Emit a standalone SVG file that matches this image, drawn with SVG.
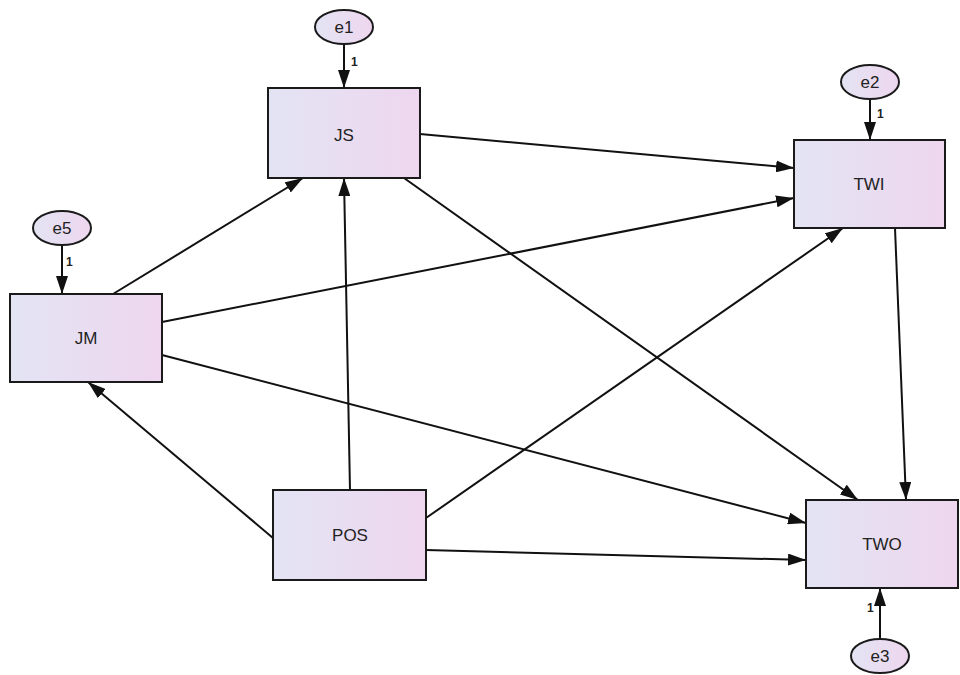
<svg xmlns="http://www.w3.org/2000/svg" width="960" height="675" viewBox="0 0 960 675">
<style>
.n{fill:url(#g);stroke:#1a1a1a;stroke-width:2}
.t{font-family:"Liberation Sans",Arial,sans-serif;font-size:17px;fill:#222;text-anchor:middle}
.s{font-family:"Liberation Sans",Arial,sans-serif;font-size:12px;fill:#222;font-weight:bold}
#edges line{stroke:#111;stroke-width:2;marker-end:url(#a)}
</style>
<defs>
<linearGradient id="g" x1="0" y1="0" x2="1" y2="0"><stop offset="0" stop-color="#e3e4f3"/><stop offset="1" stop-color="#eed6ef"/></linearGradient>
<marker id="a" viewBox="0 0 18 12" refX="18" refY="6" markerWidth="18" markerHeight="12" markerUnits="userSpaceOnUse" orient="auto"><path d="M0,0L18,6L0,12z" fill="#111"/></marker>
</defs>
<rect width="960" height="675" fill="#fff"/>
<g id="edges">
<line x1="344" y1="44" x2="344" y2="88"/>
<line x1="870" y1="99" x2="870" y2="140"/>
<line x1="62" y1="245" x2="62" y2="294"/>
<line x1="880" y1="640" x2="880" y2="588"/>
<line x1="420" y1="134" x2="794" y2="168"/>
<line x1="113" y1="294" x2="303" y2="178"/>
<line x1="162" y1="322" x2="794" y2="198"/>
<line x1="162" y1="355" x2="806" y2="523"/>
<line x1="404" y1="178" x2="858" y2="500"/>
<line x1="350" y1="490" x2="344" y2="178"/>
<line x1="273" y1="538" x2="88" y2="382"/>
<line x1="426" y1="518" x2="843" y2="228"/>
<line x1="426" y1="550" x2="806" y2="560"/>
<line x1="895" y1="228" x2="906" y2="500"/>
</g>
<text class="s" x="351" y="66">1</text>
<text class="s" x="877" y="118">1</text>
<text class="s" x="66" y="266">1</text>
<text class="s" x="867" y="612">1</text>
<g id="JS"><rect class="n" x="268" y="88" width="152" height="90"/><text class="t" x="344" y="141">JS</text></g>
<g id="TWI"><rect class="n" x="794" y="140" width="151" height="88"/><text class="t" x="869" y="190">TWI</text></g>
<g id="JM"><rect class="n" x="10" y="294" width="152" height="88"/><text class="t" x="86" y="344">JM</text></g>
<g id="POS"><rect class="n" x="273" y="490" width="153" height="90"/><text class="t" x="350" y="541">POS</text></g>
<g id="TWO"><rect class="n" x="806" y="500" width="152" height="88"/><text class="t" x="882" y="550">TWO</text></g>
<g id="e1"><ellipse class="n" cx="344" cy="27" rx="29" ry="17"/><text class="t" x="344" y="33">e1</text></g>
<g id="e2"><ellipse class="n" cx="870" cy="82" rx="29" ry="17"/><text class="t" x="870" y="88">e2</text></g>
<g id="e5"><ellipse class="n" cx="62" cy="228" rx="29" ry="17"/><text class="t" x="62" y="234">e5</text></g>
<g id="e3"><ellipse class="n" cx="880" cy="656" rx="29" ry="17"/><text class="t" x="880" y="662">e3</text></g>
</svg>
